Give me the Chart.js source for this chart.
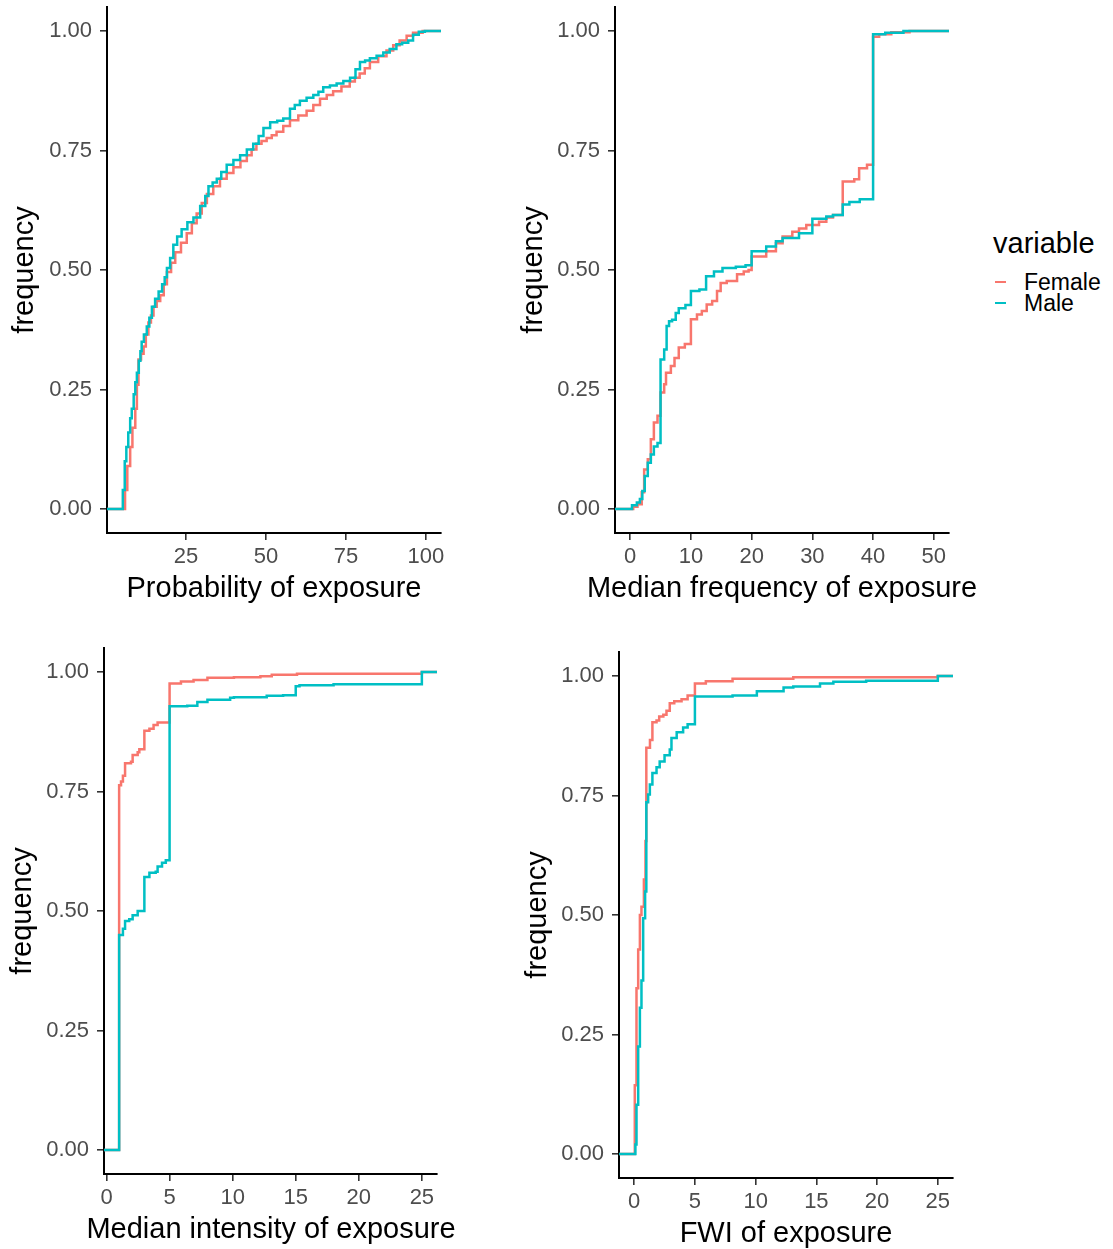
<!DOCTYPE html>
<html>
<head>
<meta charset="utf-8">
<script src="https://cdn.jsdelivr.net/npm/chart.js@4.4.1/dist/chart.umd.min.js"></script>
<style>
  html, body { margin: 0; padding: 0; background: #ffffff; }
  #page { position: relative; width: 1113px; height: 1249px; overflow: hidden; background: #fff;
          font-family: Arial, "Liberation Sans", sans-serif; }
  canvas { position: absolute; }
  .lg { position: absolute; white-space: nowrap; color: #000; }
  .key { position: absolute; height: 2px; width: 11px; }
  .xt { position: absolute; width: 600px; text-align: center; white-space: nowrap; color: #000;
        font-size: 29px; line-height: 34px; }
</style>
</head>
<body>
<div id="page">
  <canvas id="c1"></canvas>
  <canvas id="c2"></canvas>
  <canvas id="c3"></canvas>
  <canvas id="c4"></canvas>
  <div class="lg" style="left:993px; top:226px; font-size:29px; line-height:34px;">variable</div>
  <div class="key" style="left:995px; top:281px; background:#F8766D;"></div>
  <div class="lg" style="left:1024px; top:269px; font-size:23px; line-height:26px;">Female</div>
  <div class="key" style="left:995px; top:302px; background:#00BFC4;"></div>
  <div class="lg" style="left:1024px; top:290px; font-size:23px; line-height:26px;">Male</div>
</div>
<script>
// ---------------- DATA (ECDF step corners: [x, cumulative frequency]) ----------------
const seriesNames = ["Female", "Male"];
const yTicks = [0, 0.25, 0.5, 0.75, 1];

// Panel 1: Probability of exposure
const probTicks = [25, 50, 75, 100];
const probFemale = [[5.9,0.04],[6.6,0.09],[7.5,0.13],[8.2,0.17],[9.1,0.21],[9.6,0.26],[10.1,0.313],[10.9,0.325],[11.7,0.34],[12.4,0.365],[13.2,0.39],[14.0,0.405],[14.8,0.423],[15.8,0.435],[16.9,0.447],[18.0,0.47],[19.0,0.496],[20.3,0.515],[21.6,0.537],[23.4,0.557],[25.2,0.577],[26.8,0.598],[28.3,0.618],[29.9,0.64],[31.5,0.659],[33.5,0.675],[35.6,0.691],[37.7,0.703],[39.8,0.715],[42.0,0.728],[44.0,0.74],[45.5,0.752],[47.0,0.764],[48.6,0.77],[50.2,0.776],[51.8,0.782],[53.3,0.789],[55.4,0.801],[57.5,0.813],[60.1,0.823],[62.7,0.833],[64.8,0.845],[66.9,0.858],[69.0,0.866],[71.0,0.874],[73.6,0.884],[76.2,0.894],[77.8,0.902],[79.3,0.911],[80.9,0.922],[82.5,0.935],[85.1,0.947],[87.7,0.959],[89.8,0.97],[91.8,0.98],[94.0,0.99],[96.0,0.996],[99.0,1.0]];
const probMale = [[5.2,0.04],[5.8,0.10],[6.3,0.13],[6.9,0.16],[7.5,0.19],[8.0,0.21],[8.6,0.24],[9.1,0.265],[9.6,0.285],[10.2,0.31],[10.7,0.33],[11.1,0.35],[11.8,0.365],[12.7,0.382],[13.5,0.40],[14.3,0.423],[15.3,0.44],[16.4,0.455],[17.5,0.47],[18.3,0.485],[19.0,0.504],[20.0,0.525],[21.0,0.553],[22.2,0.57],[23.6,0.585],[25.4,0.60],[27.3,0.61],[29.4,0.634],[31.0,0.655],[32.0,0.675],[33.3,0.683],[34.6,0.691],[36.0,0.705],[37.7,0.72],[39.8,0.73],[41.9,0.74],[44.0,0.752],[46.0,0.764],[47.7,0.78],[49.2,0.797],[51.3,0.809],[53.5,0.812],[55.4,0.817],[57.5,0.837],[59.0,0.845],[60.6,0.854],[62.7,0.86],[64.8,0.866],[66.4,0.873],[67.9,0.882],[70.0,0.886],[72.1,0.89],[74.2,0.895],[76.3,0.902],[78.0,0.92],[79.4,0.935],[81.0,0.938],[82.5,0.943],[84.6,0.948],[86.7,0.955],[88.7,0.962],[90.8,0.972],[92.6,0.975],[94.5,0.98],[96.0,0.992],[97.8,0.998],[99.7,1.0]];

// Panel 2: Median frequency of exposure
const freqTicks = [0, 10, 20, 30, 40, 50];
const freqFemale = [[0.5,0.005],[1.2,0.01],[1.9,0.035],[2.3,0.083],[2.9,0.104],[3.4,0.146],[3.9,0.181],[4.5,0.195],[5.0,0.244],[5.6,0.261],[5.9,0.285],[6.7,0.299],[7.3,0.316],[8.0,0.338],[9.0,0.345],[10.0,0.397],[11.0,0.407],[11.8,0.414],[12.6,0.428],[13.5,0.435],[14.3,0.456],[14.9,0.473],[15.9,0.477],[17.6,0.491],[18.7,0.497],[19.5,0.5],[20.0,0.528],[22.4,0.539],[24.0,0.556],[25.1,0.57],[26.7,0.58],[27.8,0.587],[29.0,0.594],[31.1,0.601],[32.3,0.61],[33.4,0.615],[35.0,0.685],[36.9,0.69],[37.7,0.713],[39.0,0.72],[40.0,0.988],[41.0,0.993],[43.0,0.997],[46.0,1.0]];
const freqMale = [[0.3,0.008],[1.1,0.014],[1.6,0.021],[2.0,0.038],[2.4,0.069],[2.9,0.097],[3.4,0.114],[3.9,0.131],[4.5,0.138],[5.0,0.313],[5.6,0.334],[6.0,0.383],[6.4,0.393],[6.9,0.396],[7.5,0.41],[8.0,0.42],[9.1,0.427],[10.0,0.456],[11.4,0.459],[12.5,0.487],[13.8,0.497],[15.2,0.504],[17.4,0.507],[19.0,0.51],[20.0,0.539],[22.4,0.549],[24.0,0.56],[25.1,0.567],[27.8,0.577],[30.0,0.607],[32.3,0.612],[33.4,0.615],[35.0,0.637],[36.1,0.642],[37.8,0.648],[40.0,0.993],[42.0,0.996],[45.0,1.0]];

// Panel 3: Median intensity of exposure
const intTicks = [0, 5, 10, 15, 20, 25];
const intFemale = [[1.0,0.763],[1.15,0.771],[1.3,0.783],[1.47,0.809],[1.94,0.812],[2.07,0.826],[2.47,0.832],[2.6,0.838],[3.0,0.877],[3.4,0.881],[3.73,0.889],[4.05,0.894],[5.0,0.976],[5.9,0.98],[6.9,0.983],[8.0,0.988],[10.1,0.989],[12.2,0.991],[13.1,0.994],[15.1,0.996],[25.0,1.0]];
const intMale = [[1.0,0.45],[1.3,0.463],[1.47,0.479],[1.8,0.483],[2.07,0.491],[2.47,0.5],[3.0,0.571],[3.4,0.58],[3.9,0.582],[4.05,0.593],[4.4,0.601],[4.7,0.606],[5.0,0.928],[6.4,0.929],[7.2,0.937],[8.0,0.942],[9.8,0.946],[10.1,0.947],[12.7,0.95],[14.0,0.951],[15.0,0.97],[15.3,0.972],[18.0,0.974],[25.0,1.0]];

// Panel 4: FWI of exposure
const fwiTicks = [0, 5, 10, 15, 20, 25];
const fwiFemale = [[0.05,0.144],[0.19,0.347],[0.33,0.428],[0.47,0.5],[0.6,0.517],[0.8,0.574],[0.93,0.655],[1.0,0.85],[1.3,0.866],[1.5,0.903],[1.84,0.907],[2.06,0.915],[2.4,0.919],[2.66,0.927],[2.93,0.943],[3.3,0.947],[3.9,0.951],[4.4,0.959],[5.0,0.984],[5.9,0.989],[8.1,0.994],[13.1,0.997],[25.0,1.0]];
const fwiMale = [[0.1,0.02],[0.19,0.103],[0.33,0.225],[0.47,0.306],[0.6,0.363],[0.74,0.493],[0.9,0.549],[1.0,0.736],[1.15,0.752],[1.29,0.773],[1.5,0.797],[1.84,0.809],[2.1,0.821],[2.5,0.834],[2.93,0.846],[3.07,0.87],[3.5,0.882],[4.03,0.892],[4.4,0.899],[5.0,0.957],[8.1,0.959],[10.1,0.968],[12.3,0.976],[13.1,0.978],[15.3,0.984],[16.4,0.988],[19.1,0.99],[25.0,1.0]];

// ---------------- STYLE / LAYOUT ----------------
const FONT = 'Arial, "Liberation Sans", sans-serif';
const COLORS = { Female: '#F8766D', Male: '#00BFC4' };
const DRAW_ORDER = { Female: 1, Male: 0 };   // Male drawn on top
Chart.defaults.font.family = FONT;

const panels = [
  { id: 'c1', left: 0,   top: 0,   w: 470, h: 615, padTop: 7,  padRight: 29, yW: 107, xH: 82,
    xmin: 0.25, xmax: 104.75, ticks: probTicks, title: 'Probability of exposure',
    titleCx: 274, titleTop: 570, ytPad: 8, female: probFemale, male: probMale },
  { id: 'c2', left: 500, top: 0,   w: 470, h: 615, padTop: 7,  padRight: 21, yW: 115, xH: 82,
    xmin: -2.5, xmax: 52.5, ticks: freqTicks, title: 'Median frequency of exposure',
    titleCx: 782, titleTop: 570, ytPad: 17, female: freqFemale, male: freqMale },
  { id: 'c3', left: 0,   top: 620, w: 470, h: 629, padTop: 28, padRight: 33, yW: 104, xH: 75,
    xmin: -0.2, xmax: 26.2, ticks: intTicks, title: 'Median intensity of exposure',
    titleCx: 271, titleTop: 1211, ytPad: 6, female: intFemale, male: intMale },
  { id: 'c4', left: 500, top: 620, w: 480, h: 629, padTop: 32, padRight: 27, yW: 119, xH: 71,
    xmin: -1.25, xmax: 26.25, ticks: fwiTicks, title: 'FWI of exposure',
    titleCx: 786, titleTop: 1215, ytPad: 21, female: fwiFemale, male: fwiMale }
];

function ecdfData(points, xmin, xmax) {
  const d = [{ x: xmin, y: 0 }];
  points.forEach(p => d.push({ x: p[0], y: p[1] }));
  d.push({ x: xmax, y: 1 });
  return d;
}

const page = document.getElementById('page');

panels.forEach(p => {
  const cv = document.getElementById(p.id);
  cv.width = p.w; cv.height = p.h;
  cv.style.left = p.left + 'px'; cv.style.top = p.top + 'px';
  cv.style.width = p.w + 'px'; cv.style.height = p.h + 'px';

  // x-axis title as real text (wider than the panel, so not clipped to the scale width)
  const t = document.createElement('div');
  t.className = 'xt';
  t.textContent = p.title;
  t.style.left = (p.titleCx - 300) + 'px';
  t.style.top = p.titleTop + 'px';
  page.appendChild(t);

  const series = { Female: p.female, Male: p.male };
  new Chart(cv.getContext('2d'), {
    type: 'line',
    data: {
      datasets: seriesNames.map(n => ({
        label: n,
        order: DRAW_ORDER[n],
        data: ecdfData(series[n], p.xmin, p.xmax),
        borderColor: COLORS[n],
        backgroundColor: COLORS[n],
        borderWidth: 2.5,
        pointRadius: 0,
        pointHoverRadius: 0,
        fill: false,
        stepped: true,
        tension: 0
      }))
    },
    options: {
      responsive: false,
      animation: false,
      devicePixelRatio: 1,
      events: [],
      layout: { padding: { top: p.padTop, right: p.padRight, bottom: 0, left: 0 } },
      plugins: { legend: { display: false }, tooltip: { enabled: false }, title: { display: false } },
      scales: {
        x: {
          type: 'linear', min: p.xmin, max: p.xmax,
          afterBuildTicks: s => { s.ticks = p.ticks.map(v => ({ value: v })); },
          afterFit: s => { s.height = p.xH; },
          ticks: { color: '#4d4d4d', font: { size: 22 }, padding: 4, maxRotation: 0, autoSkip: false,
                   callback: v => String(v) },
          grid: { display: true, drawOnChartArea: false, drawTicks: true, tickLength: 7, color: '#333333', lineWidth: 1.6 },
          border: { display: true, color: '#000000', width: 2 },
          title: { display: false }
        },
        y: {
          type: 'linear', min: -0.05, max: 1.05,
          afterBuildTicks: s => { s.ticks = yTicks.map(v => ({ value: v })); },
          afterFit: s => { s.width = p.yW; s.paddingTop = 0; s.paddingBottom = 0; },
          ticks: { color: '#4d4d4d', font: { size: 22 }, padding: 8, callback: v => Number(v).toFixed(2) },
          grid: { display: true, drawOnChartArea: false, drawTicks: true, tickLength: 7, color: '#333333', lineWidth: 1.6 },
          border: { display: true, color: '#000000', width: 2 },
          title: { display: true, text: 'frequency', color: '#000000', font: { size: 29 },
                   padding: { top: p.ytPad, bottom: 0 } }
        }
      }
    }
  });
});
</script>
</body>
</html>
